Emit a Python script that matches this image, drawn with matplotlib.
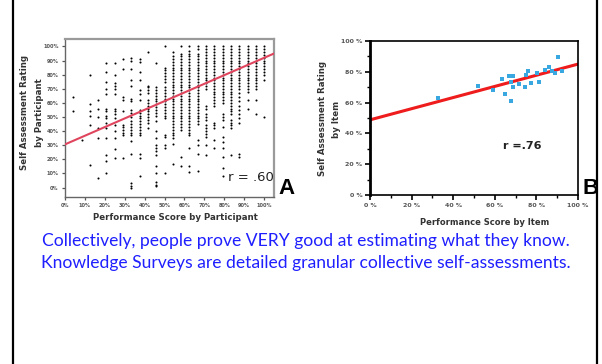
# two correlation panels (A: by participant, B: by item) + caption, slide-style

import matplotlib.pyplot as plt
from matplotlib.lines import Line2D

# --- Panel A: self-assessment rating (%) per performance-score column ---
A_COL_X = [4.2, 8.3, 12.5, 16.7, 20.8, 25, 29.2, 33.3, 37.5, 41.7, 45.8, 50,
           54.2, 58.3, 62.5, 66.7, 70.8, 75, 79.2, 83.3, 87.5, 91.7, 95.8, 100]
A_COL_Y = [
    [64, 54],
    [34],
    [80, 59, 54, 51, 44, 16],
    [62, 56, 50, 42, 35, 7],
    [88, 82, 75, 70, 66, 56, 54, 51, 49, 46, 42, 35, 23, 19, 10],
    [88, 80, 74, 72, 70, 66, 56, 54, 52, 49, 44, 40, 35, 27, 21],
    [91, 84, 64, 62, 54, 44, 43, 41, 39, 37, 21],
    [92, 90, 84, 76, 72, 63, 61, 55, 53, 50, 47, 45, 43, 41, 39, 37, 33, 24, 3, 1, 0],
    [91, 89, 82, 76, 69, 66, 62, 55, 53, 51, 49, 47, 45, 43, 41, 39, 37, 24, 21, 8],
    [96, 72, 71, 69, 67, 62, 60, 58, 56, 54, 52, 50, 48, 46, 42],
    [88, 71, 69, 67, 65, 63, 61, 59, 57, 55, 53, 51, 47, 40, 35, 30, 28, 26, 23, 15, 10, 4, 2, 1],
    [100, 85, 83, 81, 79, 77, 75, 71, 69, 67, 65, 63, 61, 59, 57, 55, 53, 51, 49, 37, 36, 30, 28, 10],
    [96, 93, 91, 89, 87, 85, 83, 81, 79, 77, 75, 73, 71, 69, 67, 65, 63, 61, 59, 57, 55, 53, 51,
     49, 47, 45, 43, 41, 39, 37, 35, 31, 17],
    [100, 95, 93, 91, 89, 87, 85, 83, 81, 79, 77, 75, 73, 71, 69, 67, 65, 63, 61, 59, 57, 55, 53,
     51, 49, 47, 45, 43, 41, 22, 15],
    [100, 97, 95, 93, 91, 89, 87, 85, 83, 81, 79, 77, 75, 73, 71, 69, 67, 65, 63, 61, 59, 57, 55,
     53, 51, 49, 47, 45, 43, 41, 39, 37, 28, 15, 11],
    [100, 98, 95, 93, 91, 89, 87, 85, 83, 81, 79, 77, 75, 73, 71, 69, 67, 65, 63, 61, 59, 57, 55,
     53, 51, 49, 47, 45, 34, 30, 24, 12],
    [100, 98, 96, 94, 92, 90, 88, 86, 84, 82, 80, 78, 76, 74, 72, 70, 58, 56, 52, 50, 48, 44, 42,
     40, 38, 36, 30, 23],
    [100, 98, 96, 94, 92, 90, 88, 86, 84, 82, 80, 78, 76, 74, 72, 70, 68, 66, 64, 62, 60, 58, 46,
     44, 42, 34, 28],
    [100, 98, 96, 94, 92, 90, 88, 86, 84, 82, 80, 78, 76, 74, 72, 70, 68, 66, 64, 62, 60, 52, 50,
     48, 43, 36, 32, 28, 22, 14, 8],
    [100, 98, 96, 94, 92, 90, 88, 86, 84, 82, 80, 78, 76, 74, 72, 70, 68, 66, 64, 62, 60, 58, 56,
     54, 52, 48, 46, 44, 42, 23],
    [100, 98, 96, 94, 92, 90, 88, 86, 84, 82, 80, 78, 76, 74, 72, 70, 67, 64, 61, 58, 55, 52, 49,
     46, 24, 22],
    [100, 98, 96, 94, 92, 90, 88, 86, 84, 82, 80, 78, 76, 74, 72, 70, 68, 62, 56],
    [100, 98, 96, 94, 92, 90, 88, 86, 84, 82, 80, 78, 76, 74, 72, 70, 62, 52],
    [100, 98, 96, 94, 92, 90, 88, 86, 84, 82, 80, 76, 50],
]
A_FIT_X = [0, 105]
A_FIT_Y = [30.6, 95.0]
A_TICKS = [0, 10, 20, 30, 40, 50, 60, 70, 80, 90, 100]
A_TICK_LABELS = ['0%', '10%', '20%', '30%', '40%', '50%', '60%', '70%', '80%', '90%', '100%']

# --- Panel B: item means ---
B_X = [32.8, 52.0, 58.9, 63.5, 64.8, 66.9, 68.8, 67.7, 67.7, 68.8, 71.7, 74.4,
       75.2, 76.0, 77.3, 80.3, 81.3, 84.0, 86.1, 87.7, 88.8, 90.4, 92.5]
B_Y = [63.3, 70.6, 68.5, 75.2, 65.5, 77.1, 77.1, 73.2, 61.1, 70.2, 71.9, 70.2,
       77.8, 80.6, 72.8, 79.3, 73.2, 81.0, 82.8, 80.6, 79.3, 89.6, 80.6]
B_FIT_X = [0, 100]
B_FIT_Y = [48.8, 85.0]
B_TICKS = [0, 20, 40, 60, 80, 100]
B_TICK_LABELS = ['0 %', '20 %', '40 %', '60 %', '80 %', '100 %']

CAPTION = ('Collectively, people prove VERY good at estimating what they know.\n'
           'Knowledge Surveys are detailed granular collective self-assessments.')

W, H = 602, 364
fig = plt.figure(figsize=(W / 100, H / 100), dpi=100)

# slide frame (left / right edges only)
for xp in (13, 597):
    fig.add_artist(Line2D([xp / W, xp / W], [0, 1], color='black', lw=1.6))

# ---------- panel A ----------
axA = fig.add_axes([65 / W, 1 - 197 / H, 209 / W, 158 / H])
for x, ys in zip(A_COL_X, A_COL_Y):
    axA.scatter([x] * len(ys), ys, s=2.2, c='black', linewidths=0, zorder=3)
axA.plot(A_FIT_X, A_FIT_Y, color='#e0455e', lw=1.5, zorder=4)
axA.set_xlim(0, 105)
axA.set_ylim(-6.7, 105.3)
axA.set_xticks(A_TICKS)
axA.set_xticklabels(A_TICK_LABELS)
axA.set_yticks(A_TICKS)
axA.set_yticklabels(A_TICK_LABELS)
axA.tick_params(length=2.5, width=0.9, colors='#555555', labelsize=3.6, pad=2)
for lab in axA.get_xticklabels() + axA.get_yticklabels():
    lab.set_fontweight('bold')
for side in ('top', 'right'):
    axA.spines[side].set_color('#9a9a9a')
    axA.spines[side].set_linewidth(1.6)
for side in ('left', 'bottom'):
    axA.spines[side].set_color('#666666')
    axA.spines[side].set_linewidth(1.0)
axA.text(82, 7.4, 'r = .60', fontsize=9.5, va='center', ha='left', color='#222222')

fig.text(32 / W, 1 - 113 / H, 'Self Assessment Rating\nby Participant', rotation=90,
         ha='center', va='center', fontsize=6.2, fontweight='bold', color='#333333',
         linespacing=1.9)
fig.text(175 / W, 1 - 218 / H, 'Performance Score by Participant', ha='center', va='center',
         fontsize=6.2, fontweight='bold', color='#333333')
fig.text(278 / W, 1 - 188 / H, 'A', ha='left', va='center', fontsize=16, fontweight='bold',
         family='Liberation Sans')

# ---------- panel B ----------
axB = fig.add_axes([370 / W, 1 - 195 / H, 208 / W, 154 / H])
axB.plot(B_FIT_X, B_FIT_Y, color='#ee1c1c', lw=2.2, zorder=2)
axB.scatter(B_X, B_Y, s=5, marker='s', c='#3aa8e0', linewidths=0, zorder=3)
axB.set_xlim(0, 100)
axB.set_ylim(0, 100)
axB.set_xticks(B_TICKS)
axB.set_xticklabels(B_TICK_LABELS)
axB.set_yticks(B_TICKS)
axB.set_yticklabels(B_TICK_LABELS)
axB.set_xticks([10, 30, 50, 70, 90], minor=True)
axB.set_yticks([10, 30, 50, 70, 90], minor=True)
axB.tick_params(which='major', length=3.5, width=1.2, colors='black', labelsize=4.5, pad=2)
axB.tick_params(which='minor', length=2, width=1.0, colors='black')
for lab in axB.get_xticklabels() + axB.get_yticklabels():
    lab.set_fontweight('bold')
    lab.set_color('#555555')
for side in ('top', 'right', 'bottom'):
    axB.spines[side].set_linewidth(1.2)
axB.spines['left'].set_linewidth(2.0)
axB.text(64, 31.8, 'r =.76', fontsize=8, fontweight='bold', va='center', ha='left',
         color='#222222')

fig.text(329.5 / W, 1 - 119 / H, 'Self Assessment Rating\nby Item', rotation=90,
         ha='center', va='center', fontsize=6.2, fontweight='bold', color='#333333',
         linespacing=1.7)
fig.text(485 / W, 1 - 222 / H, 'Performance Score by Item', ha='center', va='center',
         fontsize=6.0, fontweight='bold', color='#333333')
fig.text(582 / W, 1 - 188 / H, 'B', ha='left', va='center', fontsize=16, fontweight='bold',
         family='Liberation Sans')

# ---------- caption ----------
fig.text(306 / W, 1 - 252 / H, CAPTION, ha='center', va='center', fontsize=12.6,
         color='#1f1fff', family='Lato', linespacing=1.4)

plt.savefig('out.png', dpi=100)
